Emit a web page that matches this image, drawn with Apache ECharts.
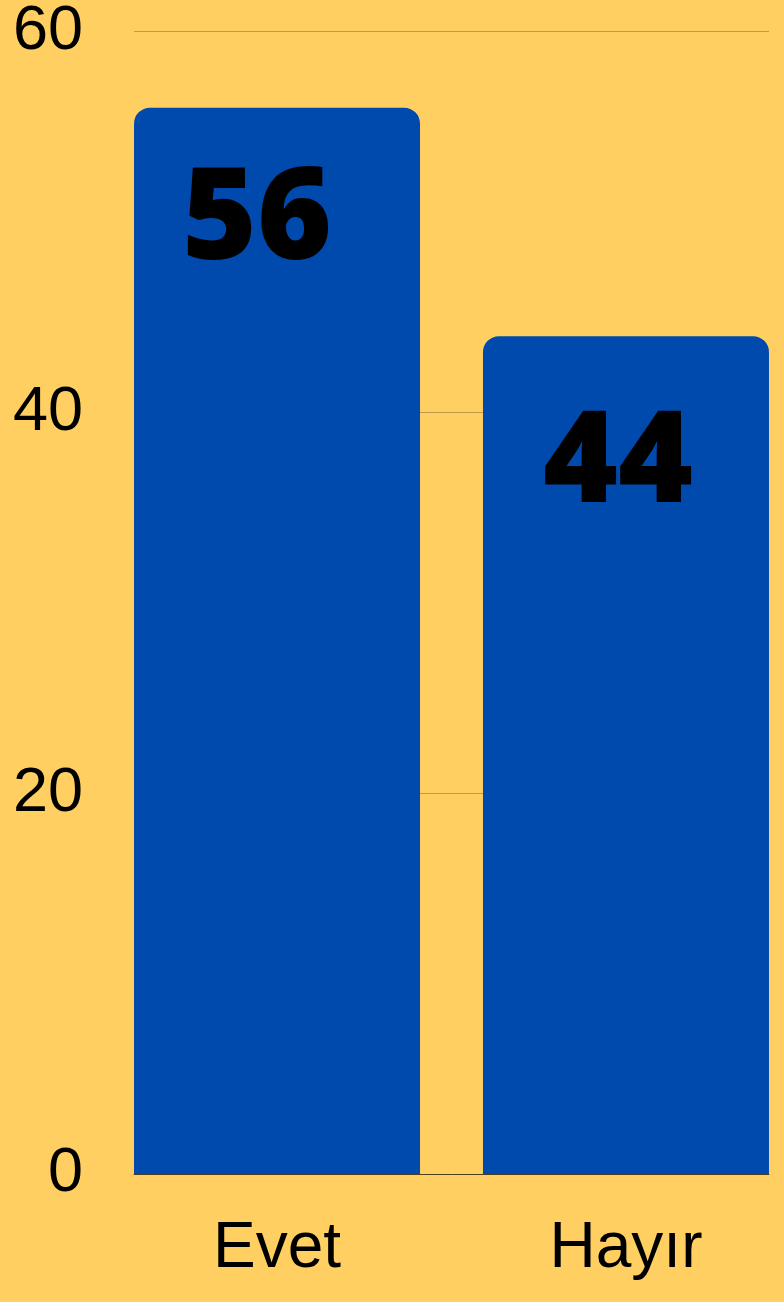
<!DOCTYPE html>
<html>
<head>
<meta charset="utf-8">
<script src="https://cdn.jsdelivr.net/npm/echarts@6/dist/echarts.min.js"></script>
<style>
html,body{margin:0;padding:0;background:#FFCF62;}
#chart{width:784px;height:1302px;}
</style>
</head>
<body>
<div id="chart"></div>
<script>
const categories = ['Evet', 'Hayır'];
const values = [56, 44];
const yTicks = [0, 20, 40, 60];

const chart = echarts.init(document.getElementById('chart'));
const labelFont = '"Liberation Sans", Arial, sans-serif';
const valueLabel = {
  show: true,
  position: 'insideTop',
  distance: 0,
  color: '#000',
  fontFamily: '"Noto Sans", sans-serif',
  fontWeight: 900,
  fontSize: 128,
  lineHeight: 128
};
chart.setOption({
  backgroundColor: '#FFCF62',
  animation: false,
  grid: {left: 134, right: 15, top: 30, bottom: 128, containLabel: false},
  xAxis: {
    type: 'category',
    data: [
      {value: categories[0], textStyle: {padding: [0, 31.5, 0, 0]}},
      {value: categories[1], textStyle: {padding: [0, 0, 0, 31.5]}}
    ],
    axisTick: {show: false},
    axisLine: {show: true, lineStyle: {color: 'rgba(0,0,0,0.6)', width: 1}},
    axisLabel: {color: '#000', fontSize: 64, fontFamily: labelFont, margin: 43}
  },
  yAxis: {
    type: 'value',
    min: yTicks[0],
    max: yTicks[yTicks.length - 1],
    interval: yTicks[1] - yTicks[0],
    axisLine: {show: false},
    axisTick: {show: false},
    axisLabel: {color: '#000', fontSize: 63, fontFamily: labelFont, margin: 51},
    splitLine: {lineStyle: {color: 'rgba(0,0,0,0.25)', width: 1}}
  },
  series: [
    {
      type: 'bar',
      barWidth: 286,
      barGap: '-89%',
      data: [
        {value: values[0], label: Object.assign({}, valueLabel, {offset: [-20, 51]})},
        '-'
      ],
      itemStyle: {color: '#004AAD', borderRadius: [16, 16, 0, 0]}
    },
    {
      type: 'bar',
      barWidth: 286,
      data: [
        '-',
        {value: values[1], label: Object.assign({}, valueLabel, {offset: [-8, 65]})}
      ],
      itemStyle: {color: '#004AAD', borderRadius: [16, 16, 0, 0]}
    }
  ]
});
</script>
</body>
</html>
